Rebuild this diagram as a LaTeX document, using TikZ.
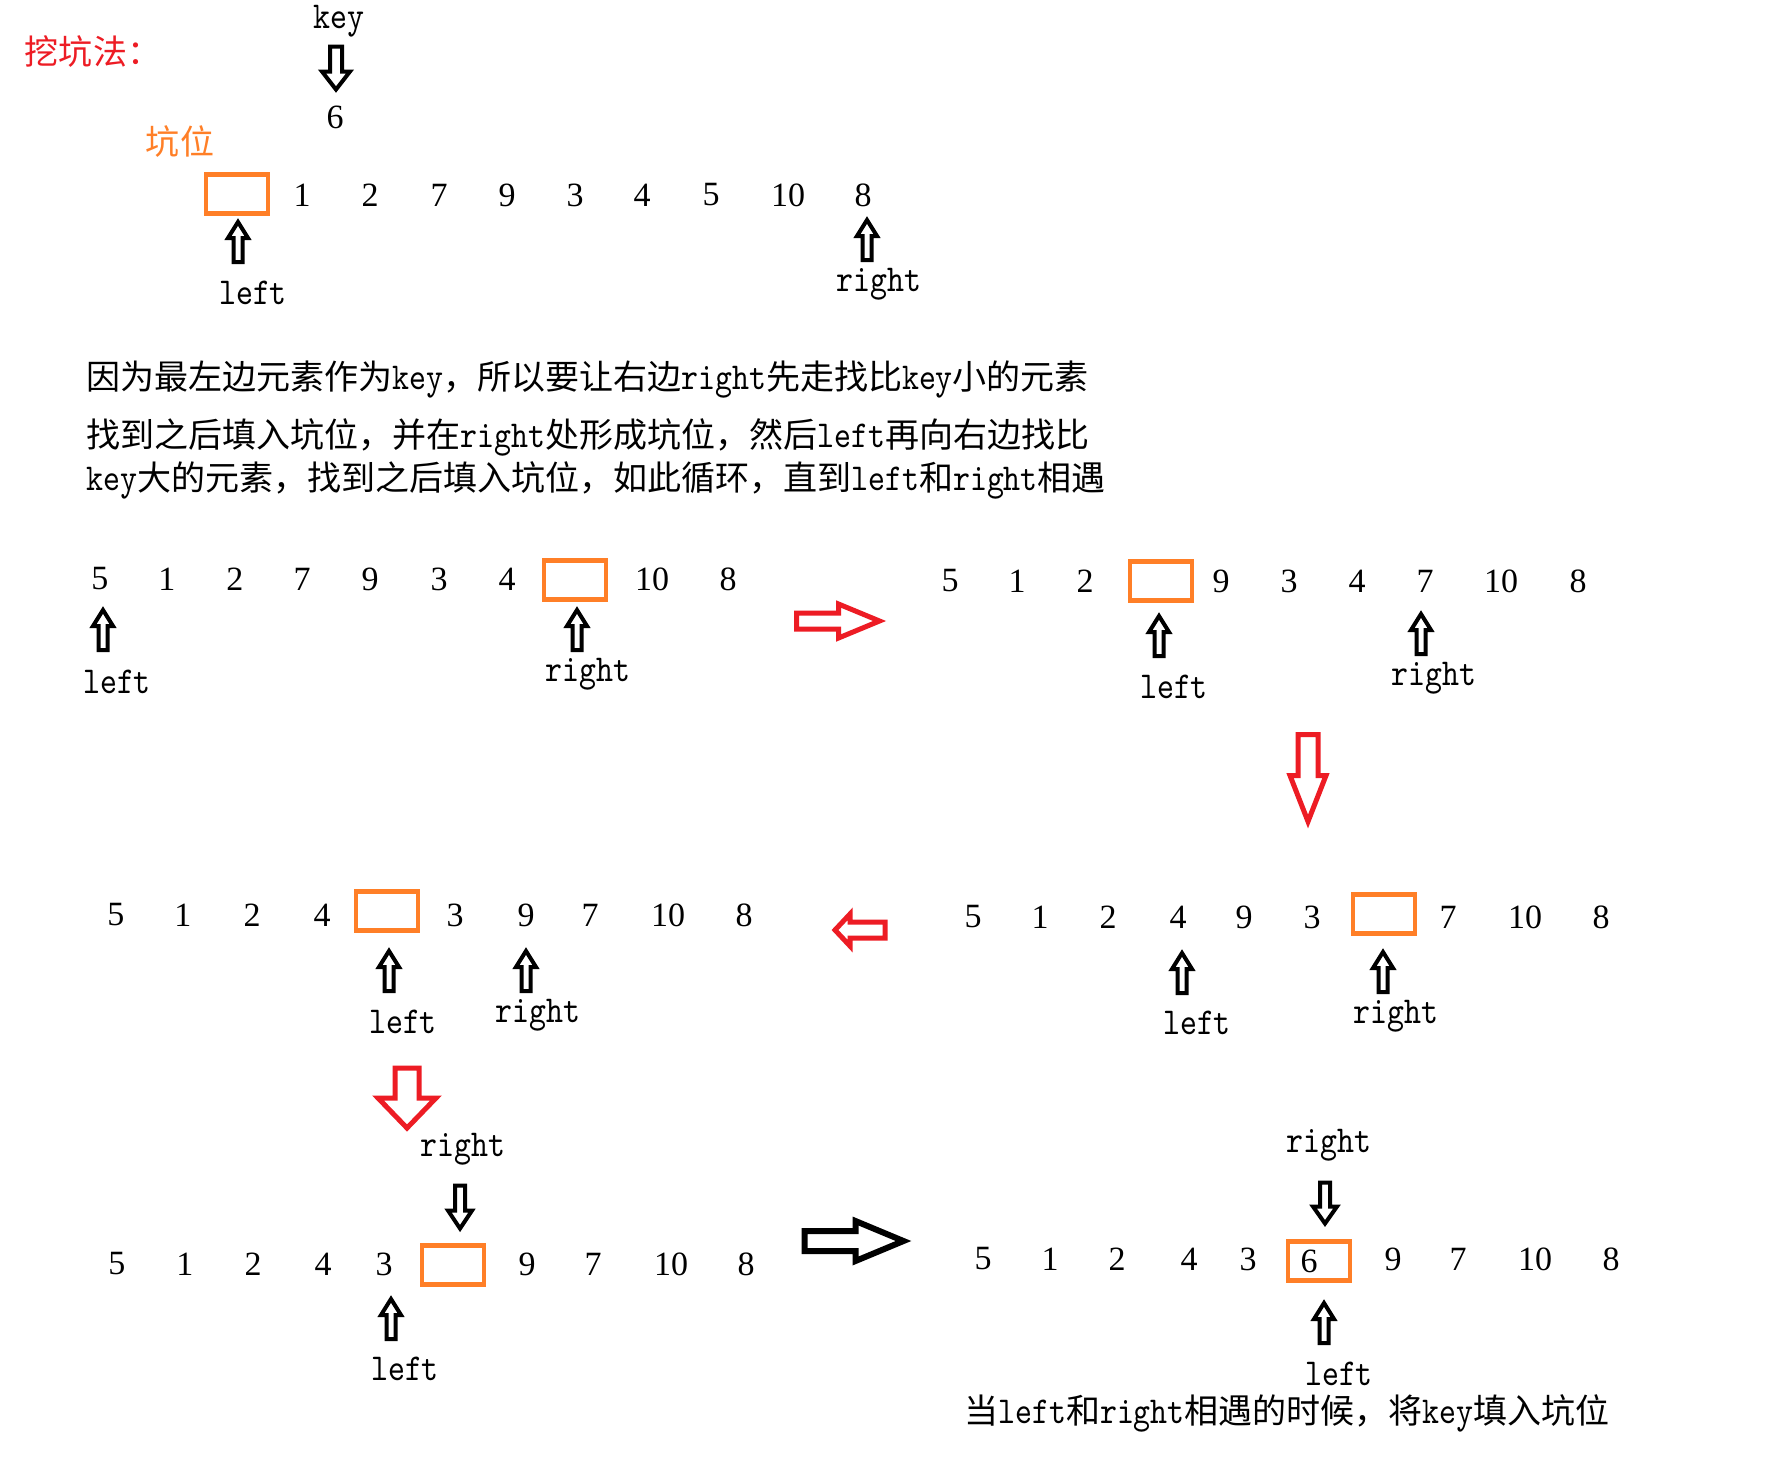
\documentclass[tikz,border=0pt]{standalone}
\usepackage{fontspec}
\setmainfont{lmmono10-regular.otf}[FakeStretch=0.85]
\newfontfamily\cjk{Noto Sans CJK SC}[Scale=0.895]
\newfontfamily\digit{Liberation Serif}[Scale=0.895]
\definecolor{pitred}{RGB}{237,28,36}
\definecolor{pitorange}{RGB}{255,127,39}

\tikzset{
  num/.style={font=\digit\fontsize{38}{42}\selectfont, inner sep=0pt},
  lbl/.style={font=\fontsize{38}{42}\selectfont, inner sep=0pt},
  txt/.style={font=\fontsize{38}{42}\selectfont, inner sep=0pt, anchor=west},
  hole/.style={draw=pitorange, line width=4.5pt, minimum width=62pt, minimum height=39pt, inner sep=0pt},
  ptr/.style={line width=4pt, line join=miter},
  fat/.style={line width=5pt, line join=miter},
  pics/blk/.style n args={4}{code={
    \draw (-#1/2,-#4) -- (#1/2-#2,-#4) -- (#1/2-#2,-#3) -- (#1/2,0)
      -- (#1/2-#2,#3) -- (#1/2-#2,#4) -- (-#1/2,#4) -- cycle;
  }},
}

\begin{document}
\begin{tikzpicture}[x=1pt, y=-1pt]
  \fill[white] (0,0) rectangle (1770,1462);

  % title and key
  \node[font=\fontsize{38}{42}\selectfont, text=pitred] (title) at (93,52) {\cjk 挖坑法：};
  \node[lbl] (key) at (339,21) {key};
  \pic[ptr, rotate=-90] at (336,68) {blk={43}{18}{14}{6}};
  \node[num] (keyval) at (335,117) {6};
  \node[font=\fontsize{38}{42}\selectfont, text=pitorange] (pit) at (180,142) {\cjk 坑位};

  % start row
  \node[hole] (h0) at (237,194) {};
  \foreach \v/\x [count=\i] in {1/302,2/370,7/439,9/507,3/575,4/642,5/711,10/788,8/863}
    \node[num] (r0\i) at (\x,195) {\v};
  \pic[ptr, rotate=90] at (238,242) {blk={40}{16}{10}{4.5}};
  \pic[ptr, rotate=90] at (867,240) {blk={40}{16}{10}{4.5}};
  \node[lbl] (left0) at (253,293) {left};
  \node[lbl] (right0) at (879,284) {right};

  % explanation
  \node[txt] (p1) at (86,379) {{\cjk 因为最左边元素作为}key{\cjk ，所以要让右边}right{\cjk 先走找比}key{\cjk 小的元素}};
  \node[txt] (p2) at (86,437) {{\cjk 找到之后填入坑位，并在}right{\cjk 处形成坑位，然后}left{\cjk 再向右边找比}};
  \node[txt] (p3) at (86,480) {key{\cjk 大的元素，找到之后填入坑位，如此循环，直到}left{\cjk 和}right{\cjk 相遇}};

  % step 1
  \foreach \v/\x [count=\i] in {5/100,1/167,2/235,7/302,9/370,3/439,4/507,10/652,8/728}
    \node[num] (ra\i) at (\x,579) {\v};
  \node[hole] (ha) at (575,580) {};
  \pic[ptr, rotate=90] at (103,630) {blk={40}{16}{10}{4.5}};
  \pic[ptr, rotate=90] at (577,630) {blk={40}{16}{10}{4.5}};
  \node[lbl] (lefta) at (117,682) {left};
  \node[lbl] (righta) at (588,674) {right};

  \pic[fat, pitred] at (838,621) {blk={83}{41}{17}{8}};

  % step 2
  \foreach \v/\x [count=\i] in {5/950,1/1017,2/1085,9/1221,3/1289,4/1357,7/1425,10/1501,8/1578}
    \node[num] (rb\i) at (\x,581) {\v};
  \node[hole] (hb) at (1161,581) {};
  \pic[ptr, rotate=90] at (1159,636) {blk={40}{16}{10}{4.5}};
  \pic[ptr, rotate=90] at (1421,634) {blk={40}{16}{10}{4.5}};
  \node[lbl] (leftb) at (1174,687) {left};
  \node[lbl] (rightb) at (1434,678) {right};

  \pic[fat, pitred, rotate=-90] at (1308,778) {blk={87}{46}{18}{10}};

  % step 3
  \foreach \v/\x [count=\i] in {5/973,1/1040,2/1108,4/1178,9/1244,3/1312,7/1448,10/1525,8/1601}
    \node[num] (rc\i) at (\x,917) {\v};
  \node[hole] (hc) at (1384,914) {};
  \pic[ptr, rotate=90] at (1182,973) {blk={40}{16}{10}{4.5}};
  \pic[ptr, rotate=90] at (1383,972) {blk={40}{16}{10}{4.5}};
  \node[lbl] (leftc) at (1197,1023) {left};
  \node[lbl] (rightc) at (1396,1016) {right};

  \pic[fat, pitred, rotate=180] at (860,930) {blk={50}{15}{16}{8}};

  % step 4
  \foreach \v/\x [count=\i] in {5/116,1/183,2/252,4/322,3/455,9/526,7/590,10/668,8/744}
    \node[num] (rd\i) at (\x,915) {\v};
  \node[hole] (hd) at (387,911) {};
  \pic[ptr, rotate=90] at (389,971) {blk={40}{16}{10}{4.5}};
  \pic[ptr, rotate=90] at (526,971) {blk={40}{16}{10}{4.5}};
  \node[lbl] (leftd) at (403,1022) {left};
  \node[lbl] (rightd) at (538,1015) {right};

  \pic[fat, pitred, rotate=-90] at (407,1098) {blk={60}{30}{29}{12}};

  % step 5
  \node[lbl] (righte) at (463,1149) {right};
  \pic[ptr, rotate=-90] at (460,1207) {blk={43}{18}{12}{5}};
  \foreach \v/\x [count=\i] in {5/117,1/185,2/253,4/323,3/384,9/527,7/593,10/671,8/746}
    \node[num] (re\i) at (\x,1264) {\v};
  \node[hole] (he) at (453,1265) {};
  \pic[ptr, rotate=90] at (391,1319) {blk={40}{16}{10}{4.5}};
  \node[lbl] (lefte) at (405,1369) {left};

  \pic[line width=6pt, line join=miter] at (854,1241) {blk={99}{48}{20}{10}};

  % meeting point
  \node[lbl] (rightf) at (1329,1145) {right};
  \pic[ptr, rotate=-90] at (1325,1203) {blk={41}{17}{12}{5}};
  \foreach \v/\x [count=\i] in {5/983,1/1050,2/1117,4/1189,3/1248,9/1393,7/1458,10/1535,8/1611}
    \node[num] (rf\i) at (\x,1259) {\v};
  \node[hole] (hf) at (1319,1261) {};
  \node[num] (keyin) at (1309,1261) {6};
  \pic[ptr, rotate=90] at (1324,1323) {blk={40}{16}{10}{4.5}};
  \node[lbl] (leftf) at (1339,1374) {left};
  \node[font=\fontsize{38}{42}\selectfont, inner sep=0pt] (end) at (1287,1413)
    {{\cjk 当}left{\cjk 和}right{\cjk 相遇的时候，将}key{\cjk 填入坑位}};
\end{tikzpicture}
\end{document}
